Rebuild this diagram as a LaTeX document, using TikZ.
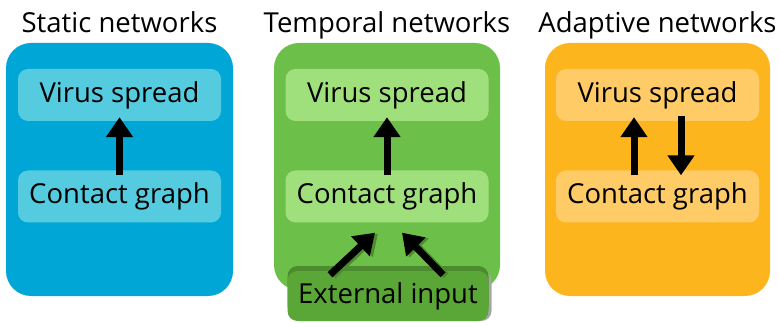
\documentclass[tikz,border=0pt]{standalone}
\usepackage{fontspec}
\setmainfont{Open Sans}
\usetikzlibrary{arrows.meta,positioning}
\definecolor{staticblue}{HTML}{00A6D6}
\definecolor{staticlight}{HTML}{55CBE0}
\definecolor{tempgreen}{HTML}{6CC04A}
\definecolor{templight}{HTML}{9FE07C}
\definecolor{extgreen}{HTML}{5AA637}
\definecolor{extdark}{HTML}{4C8C2E}
\definecolor{adaptorange}{HTML}{FDB51E}
\definecolor{adaptlight}{HTML}{FFCB66}
\tikzset{
  bigbox/.style={rounded corners=25pt, inner sep=0pt},
  smallbox/.style={rounded corners=10pt, minimum width=203pt, minimum height=52pt, inner sep=0pt, font=\fontsize{27.5}{32}\selectfont},
  heading/.style={anchor=base, font=\fontsize{27.5}{32}\selectfont},
  arr/.style={line width=7pt, -{Triangle[width=26pt,length=20pt]}},
}
\begin{document}
\begin{tikzpicture}[x=1pt,y=-1pt]
\useasboundingbox (0,0) rectangle (779,323);
% titles
\node[heading] (sttl) at (119.5,33) {Static networks};
\node[heading] (tttl) at (387,33) {Temporal networks};
\node[heading] (attl) at (657.5,33) {Adaptive networks};
% big boxes
\node[bigbox, fill=staticblue, minimum width=227pt, minimum height=253pt] (sbox) at (119.5,169.5) {};
\node[bigbox, fill=tempgreen, minimum width=226pt, minimum height=247pt] (tbox) at (387,166.5) {};
\node[bigbox, fill=adaptorange, minimum width=225pt, minimum height=253pt] (abox) at (657.5,169.5) {};
% static
\node[smallbox, fill=staticlight] (svirus) at (119.5,95) {Virus spread};
\node[smallbox, fill=staticlight] (scontact) at (119.5,196.5) {Contact graph};
\draw[arr] ([yshift=-5pt]scontact.north) -- ([yshift=4pt]svirus.south);
% temporal
\node[smallbox, fill=templight] (tvirus) at (387,95) {Virus spread};
\node[smallbox, fill=templight] (tcontact) at (387,196.5) {Contact graph};
\draw[arr] ([yshift=-5pt]tcontact.north) -- ([yshift=4pt]tvirus.south);
\node[smallbox, fill=black!35, minimum width=201pt, minimum height=50pt] at (391,296) {};
\node[smallbox, fill=extdark, minimum width=201pt, minimum height=50pt] at (388,291) {};
\node[smallbox, fill=extgreen, minimum width=201pt, minimum height=50pt] (ext) at (388,296) {External input};
\begin{scope}[extdark, transform canvas={xshift=3pt,yshift=-1pt}]
\draw[arr] ([xshift=-58pt,yshift=-4pt]ext.north) -- ([xshift=-12pt,yshift=-10pt]tcontact.south);
\draw[arr] ([xshift=55pt,yshift=-4pt]ext.north) -- ([xshift=15pt,yshift=-10pt]tcontact.south);
\end{scope}
\draw[arr] ([xshift=-58pt,yshift=-4pt]ext.north) -- ([xshift=-12pt,yshift=-10pt]tcontact.south);
\draw[arr] ([xshift=55pt,yshift=-4pt]ext.north) -- ([xshift=15pt,yshift=-10pt]tcontact.south);
% adaptive
\node[smallbox, fill=adaptlight] (avirus) at (657.5,95) {Virus spread};
\node[smallbox, fill=adaptlight] (acontact) at (657.5,196.5) {Contact graph};
\draw[arr] ([xshift=-23.5pt,yshift=-5pt]acontact.north) -- ([xshift=-23.5pt,yshift=4pt]avirus.south);
\draw[arr] ([xshift=23.5pt,yshift=5pt]avirus.south) -- ([xshift=23.5pt,yshift=-5pt]acontact.north);
\end{tikzpicture}
\end{document}
